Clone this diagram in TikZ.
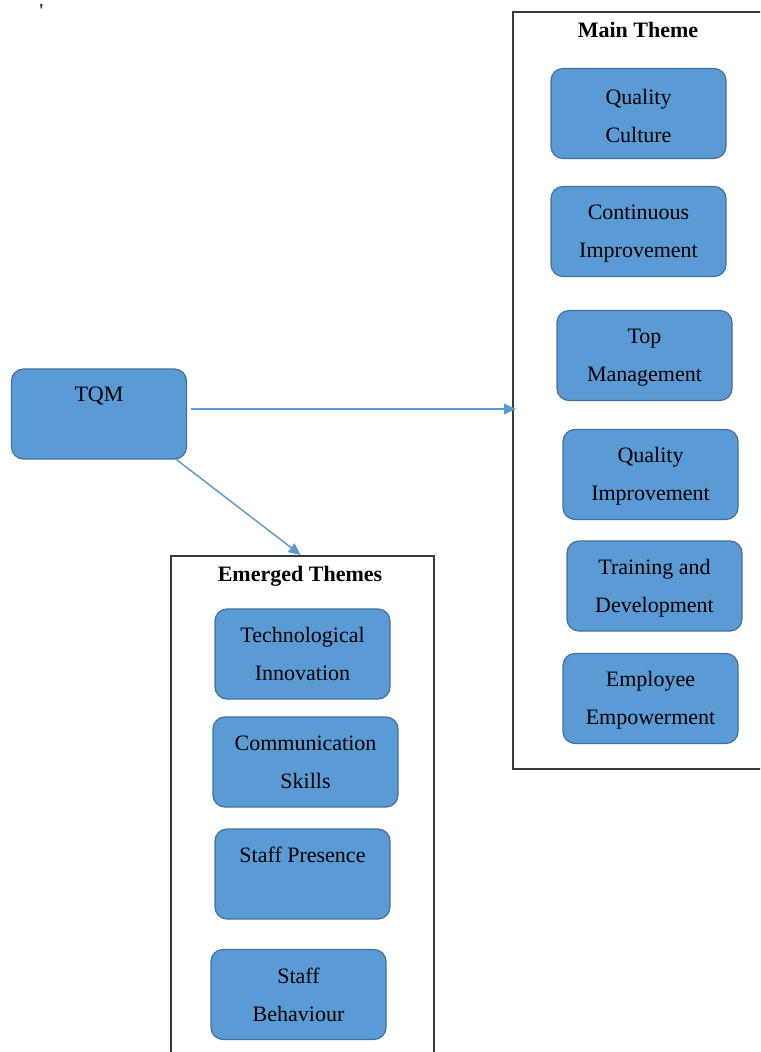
\documentclass[tikz,border=0pt]{standalone}
\usepackage{fontspec}
\setmainfont{Liberation Serif}
\usetikzlibrary{arrows.meta}
\definecolor{boxfill}{HTML}{5B9BD5}
\definecolor{boxline}{HTML}{41719C}
\definecolor{arrowc}{HTML}{5B9BD5}
\definecolor{framec}{HTML}{3A3A3A}
\newcommand{\toplift}{\rule{0pt}{14.5pt}}
\tikzset{
  px/.style={x=0.75pt,y=-0.75pt},
  themebox/.style={draw=boxline, line width=0.9pt, fill=boxfill, rounded corners=9pt,
    minimum width=131.25pt, minimum height=67.5pt, inner sep=0pt, align=center,
    font=\fontsize{16.5}{28.5}\selectfont, text=black},
  frame/.style={draw=framec, line width=1.5pt, inner sep=0pt, fill=none},
  ftitle/.style={font=\fontsize{16.5}{20}\selectfont\bfseries, inner sep=0pt},
  arr/.style={draw=arrowc, line width=1.1pt, -{Triangle[length=9pt,width=8pt]}}
}
\begin{document}
\begin{tikzpicture}[px]
\clip (0,0) rectangle (760,1052);
\fill[white] (0,0) rectangle (760,1052);
% tiny mark
\node[font=\fontsize{15}{15}\selectfont\bfseries, inner sep=0pt, text=black!80] (mark) at (41.5,11) {\textquotesingle};
% frames
\node[frame, minimum width=195pt, minimum height=568pt, anchor=north west] (mainf) at (512,11) {};
\node[frame, minimum width=197.5pt, minimum height=390pt, anchor=north west] (emf) at (170,555) {};
\node[ftitle] (maint) at (638,29.5) {Main Theme};
\node[ftitle] (emt) at (300,576) {Emerged Themes};
% TQM
\node[themebox] (tqm) at (99,414) {TQM\\[-7.5pt]\strut};
% main theme boxes
\node[themebox] (m1) at (638.5,113.5) {\toplift Quality\\Culture};
\node[themebox] (m2) at (638.5,231.5) {\toplift Continuous\\Improvement};
\node[themebox] (m3) at (644.5,355.5) {\toplift Top\\Management};
\node[themebox] (m4) at (650.5,474.5) {\toplift Quality\\Improvement};
\node[themebox] (m5) at (654.5,586) {\toplift Training and\\Development};
\node[themebox] (m6) at (650.5,698.5) {\toplift Employee\\Empowerment};
% emerged boxes
\node[themebox] (e1) at (302.5,654) {Technological\\Innovation};
\node[themebox, minimum width=138.75pt] (e2) at (305.5,762) {Communication\\Skills};
\node[themebox] (e3) at (302.5,874) {Staff Presence\\[-7.5pt]\strut};
\node[themebox] (e4) at (298.5,994.5) {Staff\\Behaviour};
% connectors
\draw[arr] ([shift={(4,-5)}]tqm.east) -- ([shift={(4,-5)}]tqm.east -| mainf.west);
\draw[arr] ([xshift=-8pt]tqm.south east) -- ([xshift=-1.5pt]emf.north);
\end{tikzpicture}
\end{document}
